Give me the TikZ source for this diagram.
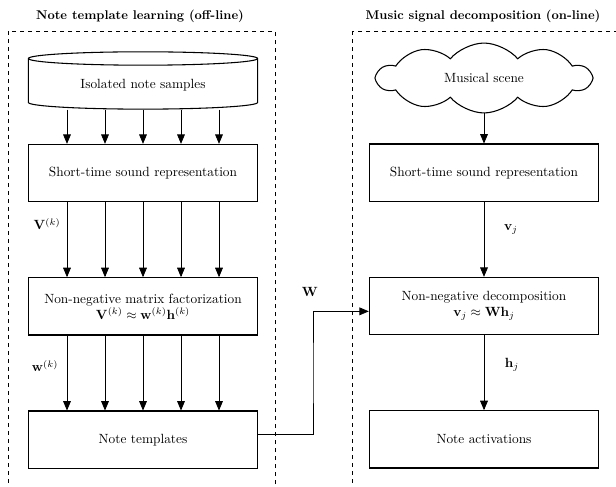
\documentclass[tikz,border=0pt]{standalone}
\usepackage{amsmath}
\usetikzlibrary{shapes,arrows}
\newcommand{\stage}[1]{ {\fontsize{9.5}{11}\selectfont\bfseries #1} }

\begin{document}
\begin{tikzpicture}[x=0.75pt, y=-0.75pt, auto,
    block/.style={draw, thick, minimum width=172pt, minimum height=43pt, align=center},
    flow/.style={-triangle 45, semithick}]
    \clip (0,0) rectangle (616,486);

	\draw[dashed, semithick] (8,31) rectangle (275,500);
	\draw[dashed, semithick] (352,31) rectangle (640,500);
	\node[] (offline) at (140,16) {\stage{Note template learning (off-line)}};
	\node[] (online) at (483,16) {\stage{Music signal decomposition (on-line)}};

	\node[draw, thick, cylinder, shape border rotate=90, aspect=0.1,
	      minimum width=172pt, minimum height=43pt] (samples) at (143,85) {Isolated note samples};
	\node[block, below of=samples, node distance=66pt] (stsl) {Short-time sound representation};
	\node[block, below of=stsl, node distance=100pt] (nmf) {Non-negative matrix factorization\\
	      $\mathbf{V}^{(k)} \approx \mathbf{w}^{(k)}\mathbf{h}^{(k)}$};
	\node[block, below of=nmf, node distance=100pt] (notes) {Note templates};

    \draw[flow] ([xshift=-57pt]samples.south) -- ([xshift=-57pt]stsl.north);
    \draw[flow] ([xshift=-28.5pt]samples.south) -- ([xshift=-28.5pt]stsl.north);
    \draw[flow] (samples.south) -- (stsl.north);
    \draw[flow] ([xshift=28.5pt]samples.south) -- ([xshift=28.5pt]stsl.north);
    \draw[flow] ([xshift=57pt]samples.south) -- ([xshift=57pt]stsl.north);

    \draw[flow] ([xshift=-57pt]stsl.south) -- ([xshift=-57pt]nmf.north);
    \draw[flow] ([xshift=-28.5pt]stsl.south) -- ([xshift=-28.5pt]nmf.north);
    \draw[flow] (stsl.south) -- (nmf.north);
    \draw[flow] ([xshift=28.5pt]stsl.south) -- ([xshift=28.5pt]nmf.north);
    \draw[flow] ([xshift=57pt]stsl.south) -- ([xshift=57pt]nmf.north);

    \draw[flow] ([xshift=-57pt]nmf.south) -- ([xshift=-57pt]notes.north);
    \draw[flow] ([xshift=-28.5pt]nmf.south) -- ([xshift=-28.5pt]notes.north);
    \draw[flow] (nmf.south) -- (notes.north);
    \draw[flow] ([xshift=28.5pt]nmf.south) -- ([xshift=28.5pt]notes.north);
    \draw[flow] ([xshift=57pt]nmf.south) -- ([xshift=57pt]notes.north);

	\node[] (vk) at (47,224) {$\mathbf{V}^{(k)}$};
	\node[] (wk) at (45,366) {$\mathbf{w}^{(k)}$};

	\node[draw, thick, cloud, cloud puffs=10, cloud puff arc=100, aspect=2.3,
	      minimum width=160pt] (scene) at (484,78) {Musical scene};
	\node[block, below of=scene, node distance=71pt] (stsr) {Short-time sound representation};
    \draw[flow] (scene.south) -- (stsr.north);
	\node[block, below of=stsr, node distance=100pt] (nnd) {Non-negative decomposition\\
	      $\mathbf{v}_j \approx \mathbf{W}\mathbf{h}_j$};
    \draw[flow] (stsr) -- (nnd);
	\node[block, below of=nnd, node distance=100pt] (acts) {Note activations};
    \draw[flow] (nnd) -- (acts);

	\node[] (vj) at (511,229) {$\mathbf{v}_j$};
	\node[] (hj) at (512,365) {$\mathbf{h}_j$};

	\coordinate (bend) at (313,373);
	\node[] (W) at (310,292) {$\mathbf{W}$};
    \draw[flow] ([yshift=4pt]notes.east) -| (bend) |- ([yshift=-4pt]nnd.west);
\end{tikzpicture}
\end{document}
